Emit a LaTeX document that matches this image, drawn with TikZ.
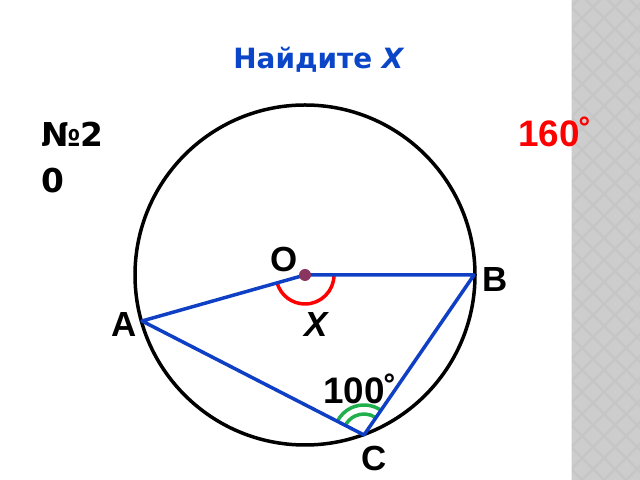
\documentclass[tikz,border=0pt]{standalone}
\usepackage{fontspec}
\setmainfont{DejaVu Sans}
\newfontfamily\arialfont{Liberation Sans}
\definecolor{lineblue}{HTML}{0F3FC4}
\definecolor{titleblue}{HTML}{0B45C8}
\definecolor{arcgreen}{HTML}{1FB04C}
\definecolor{dotpurple}{HTML}{8A3560}
\definecolor{stripdark}{HTML}{C6C6C6}
\definecolor{striplight}{HTML}{CDCDCD}
\begin{document}
\begin{tikzpicture}[x=1bp,y=1bp,
  lbl/.style={inner sep=0pt,font=\arialfont\fontsize{35}{40}\selectfont\bfseries},
  numlbl/.style={inner sep=0pt,font=\arialfont\fontsize{37}{42}\selectfont\bfseries},
  seg/.style={lineblue,line width=3.5bp,line join=round,line cap=round}]
\useasboundingbox (0,0) rectangle (640,480);
\fill[white] (0,0) rectangle (640,480);
% gray strip
\begin{scope}
\clip (571,0) rectangle (640,480);
\fill[stripdark] (571,0) rectangle (640,480);
\foreach \i in {0,...,4}{
  \foreach \j in {0,...,44}{
    \pgfmathsetmacro{\cx}{571+22*\i+11*mod(\j,2)}
    \pgfmathsetmacro{\cy}{11*\j}
    \fill[striplight] (\cx-9,\cy) -- (\cx,\cy+9) -- (\cx+9,\cy) -- (\cx,\cy-9) -- cycle;
  }
}
\end{scope}
\draw[white!85!gray,line width=1bp] (571.5,0) -- (571.5,480);
% geometry
\coordinate (O) at (305,205);
\coordinate (B) at (474,205);
\coordinate (A) at (142,159);
\coordinate (C) at (364,45);
\draw[black,line width=3.5bp] (O) circle[radius=170];
% angle marks
\draw[red,line width=3.5bp] ([shift={(0:29)}]O) arc[start angle=0,end angle=-164,radius=29];
\draw[arcgreen,line width=3.5bp] ([shift={(55.5:30)}]C) arc[start angle=55.5,end angle=152.8,radius=30];
\draw[arcgreen,line width=3.5bp] ([shift={(55.5:21)}]C) arc[start angle=55.5,end angle=152.8,radius=21];
% segments
\draw[seg] (B) -- (O) -- (A) -- (C) -- (B);
\fill[dotpurple] (O) circle[radius=6];
% labels
\node[inner sep=0pt,anchor=base,text=titleblue,font=\fontsize{28}{32}\selectfont\bfseries] (title) at (319,411) {Найдите \textit{X}};
\node[inner sep=0pt,anchor=base west,font=\fontsize{33}{38}\selectfont\bfseries] (num1) at (41,333) {№2};
\node[inner sep=0pt,anchor=base west,font=\fontsize{33}{38}\selectfont\bfseries] (num2) at (41,287) {0};
\node[numlbl,anchor=base west,text=red] (deg) at (518,333) {160˚};
\node[lbl] (lO) at (284.5,220.5) {O};
\node[lbl] (lB) at (495,200.5) {B};
\node[lbl] (lA) at (124.5,155.5) {A};
\node[lbl,font=\arialfont\fontsize{35}{40}\selectfont\bfseries\itshape] (lX) at (316.5,155.5) {X};
\node[numlbl,anchor=base west] (l100) at (323,76) {100˚};
\node[lbl] (lC) at (374.5,21.5) {C};
\end{tikzpicture}
\end{document}
